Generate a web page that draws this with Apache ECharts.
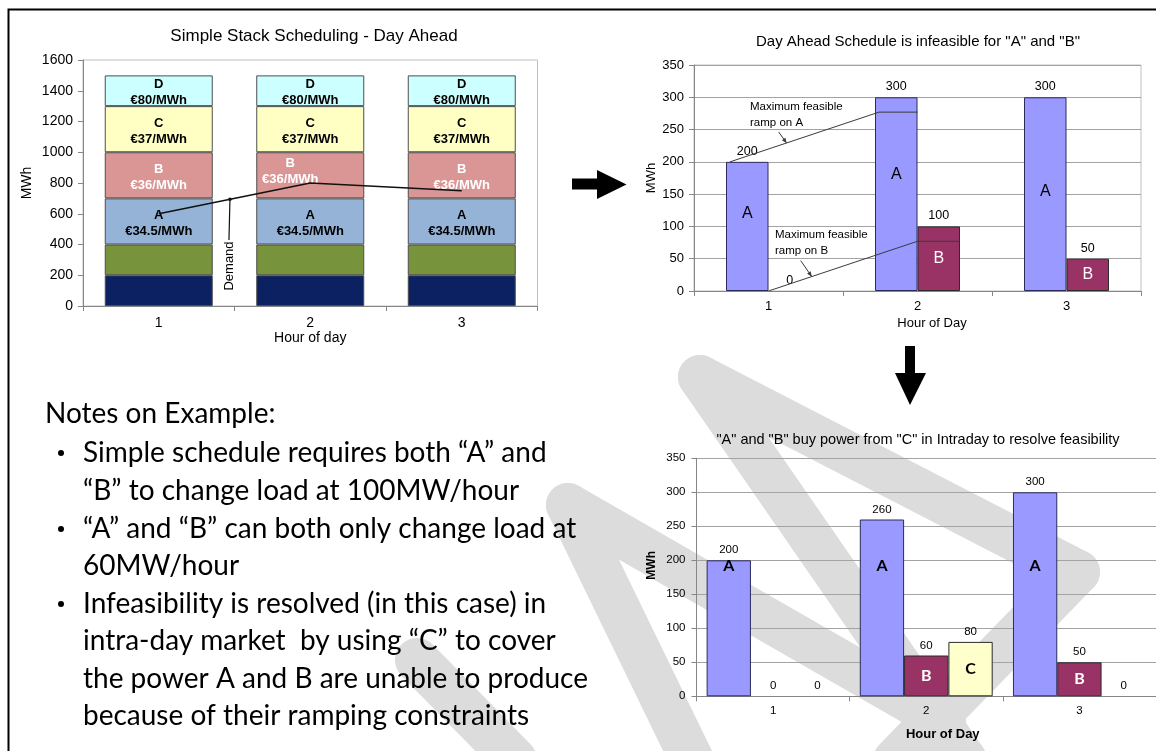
<!DOCTYPE html>
<html><head><meta charset="utf-8">
<script src="https://cdn.jsdelivr.net/npm/echarts@6/dist/echarts.min.js"></script>
<style>html,body{margin:0;padding:0;background:#fff;}#c{width:1156px;height:751px;}</style>
</head><body><div id="c"></div>
<script>
// ---------------- DATA ----------------
const hours = ['1', '2', '3'];

// Chart 1: simple stack (MWh per unit, stacked)
const stackBase1 = [200, 200, 200];
const stackBase2 = [200, 200, 200];
const stackA = [300, 300, 300];
const stackB = [300, 300, 300];
const stackC = [300, 300, 300];
const stackD = [200, 200, 200];
const demand = [600, 800, 750];
const priceA = '€34.5/MWh';
const priceB = '€36/MWh';
const priceC = '€37/MWh';
const priceD = '€80/MWh';

// Chart 2: day-ahead schedule
const dayAheadA = [200, 300, 300];
const dayAheadB = [0, 100, 50];
const rampA = [200, 277];   // max feasible ramp line on A (hour 1 -> hour 2)
const rampB = [0, 77];      // max feasible ramp line on B (hour 1 -> hour 2)

// Chart 3: intraday re-dispatch
const intradayA = [200, 260, 300];
const intradayB = [0, 60, 50];
const intradayC = [0, 80, 0];

const notesTitle = 'Notes on Example:';
const notesLines = [
  {bullet: true,  text: 'Simple schedule requires both \u201CA\u201D and'},
  {bullet: false, text: '\u201CB\u201D to change load at 100MW/hour'},
  {bullet: true,  text: '\u201CA\u201D and \u201CB\u201D can both only change load at'},
  {bullet: false, text: '60MW/hour'},
  {bullet: true,  text: 'Infeasibility is resolved (in this case) in'},
  {bullet: false, text: 'intra-day market  by using \u201CC\u201D to cover'},
  {bullet: false, text: 'the power A and B are unable to produce'},
  {bullet: false, text: 'because of their ramping constraints'}
];

// ---------------- STYLE / LAYOUT ----------------
const FONT = '"Liberation Sans", Arial, sans-serif';
const NOTE_FONT = 'Lato, "Open Sans", sans-serif';
const AX = '#868686';
const GRID = [
  {left: 83, top: 60, width: 454.5, height: 246},
  {left: 694, top: 65, width: 447, height: 226},
  {left: 696.5, top: 458.3, width: 459.5, height: 238}
];
const BW1 = 108, BW2 = 42.5, BW3 = 44.3;
const A2_TAG_SHIFT = [-13, -20, -3];
const A3_TAG_LEVEL = 192;
const px3 = GRID[2].height / 350;

const chart = echarts.init(document.getElementById('c'), null, {renderer: 'canvas'});

function catAxis(gi, o) {
  return Object.assign({
    type: 'category', gridIndex: gi, data: hours,
    axisLine: {show: true, lineStyle: {color: AX, width: 1}},
    axisTick: {show: true, length: 5, lineStyle: {color: AX}},
    axisLabel: {color: '#000', fontFamily: FONT},
    splitLine: {show: false}
  }, o);
}
function hiddenCat(gi) {
  return {type: 'category', gridIndex: gi, data: hours, show: false};
}
function valAxis(gi, o) {
  return Object.assign({
    type: 'value', gridIndex: gi, min: 0,
    axisLine: {show: true, lineStyle: {color: AX, width: 1}},
    axisTick: {show: true, length: 5, lineStyle: {color: AX}}
  }, o);
}
const plain = v => String(v);

const stack1Label = (txt, color, extra) => Object.assign({
  show: true, position: 'inside', formatter: txt, color: color,
  fontFamily: FONT, fontWeight: 'bold', fontSize: 13, lineHeight: 16, offset: [0, 2]
}, extra || {});

function stackSeries(name, data, color, label) {
  return {
    type: 'bar', name: name, xAxisIndex: 0, yAxisIndex: 0, stack: 'gen', barWidth: BW1,
    data: data, itemStyle: {color: color, borderColor: '#4d4d4d', borderWidth: 1},
    label: label || {show: false}, silent: true
  };
}
// zero-height bars get no outline (nothing is drawn for them in the reference)
const withOutline = arr => arr.map(v => v === 0 ? {value: v, itemStyle: {borderWidth: 0}} : v);

const valLabel = (size) => ({show: true, position: 'top', distance: 4, color: '#000', fontFamily: FONT, fontSize: size});
const clear = {color: 'rgba(0,0,0,0)', borderWidth: 0};

const option = {
  animation: false,
  backgroundColor: '#fff',
  title: [
    {text: 'Simple Stack Scheduling - Day Ahead', left: 314, top: 28, textAlign: 'center', padding: 0,
     textStyle: {fontFamily: FONT, fontSize: 17, fontWeight: 'normal', color: '#000'}},
    {text: 'Day Ahead Schedule is infeasible for "A" and "B"', left: 918, top: 34, textAlign: 'center', padding: 0,
     textStyle: {fontFamily: FONT, fontSize: 15, fontWeight: 'normal', color: '#000'}},
    {text: '"A" and "B" buy power from "C" in Intraday to resolve feasibility', left: 918, top: 432, textAlign: 'center', padding: 0,
     textStyle: {fontFamily: FONT, fontSize: 14.5, fontWeight: 'normal', color: '#000'}}
  ],
  grid: [
    Object.assign({show: true, borderColor: '#c0c0c0', borderWidth: 1, backgroundColor: 'transparent', containLabel: false}, GRID[0]),
    Object.assign({show: true, borderColor: '#c0c0c0', borderWidth: 1, backgroundColor: 'transparent', containLabel: false}, GRID[1]),
    Object.assign({show: false, containLabel: false}, GRID[2])
  ],
  xAxis: [
    catAxis(0, {axisLabel: {color: '#000', fontFamily: FONT, fontSize: 14, margin: 10},
      name: 'Hour of day', nameLocation: 'middle', nameGap: 25,
      nameTextStyle: {fontFamily: FONT, fontSize: 14, color: '#000'}}),
    catAxis(1, {axisLabel: {color: '#000', fontFamily: FONT, fontSize: 13, margin: 9},
      name: 'Hour of Day', nameLocation: 'middle', nameGap: 26,
      nameTextStyle: {fontFamily: FONT, fontSize: 13, color: '#000', padding: [0, 0, 0, 29]}}),
    hiddenCat(1),
    catAxis(2, {axisLabel: {color: '#000', fontFamily: FONT, fontSize: 11.5, margin: 9},
      name: 'Hour of Day', nameLocation: 'middle', nameGap: 32,
      nameTextStyle: {fontFamily: FONT, fontSize: 13, fontWeight: 'bold', color: '#000', padding: [0, 0, 0, 33]}}),
    hiddenCat(2)
  ],
  yAxis: [
    valAxis(0, {max: 1600, interval: 200, splitLine: {show: false},
      axisLabel: {color: '#000', fontFamily: FONT, fontSize: 14, margin: 10, formatter: plain},
      name: 'MWh', nameLocation: 'middle', nameGap: 49,
      nameTextStyle: {fontFamily: FONT, fontSize: 14, color: '#000'}}),
    valAxis(1, {max: 350, interval: 50, splitLine: {show: true, lineStyle: {color: '#a3a3a3', width: 1}},
      axisLabel: {color: '#000', fontFamily: FONT, fontSize: 13, margin: 10, formatter: plain},
      name: 'MWh', nameLocation: 'middle', nameGap: 35,
      nameTextStyle: {fontFamily: FONT, fontSize: 13, color: '#000'}}),
    valAxis(2, {max: 350, interval: 50, splitLine: {show: true, lineStyle: {color: '#a3a3a3', width: 1}},
      axisLabel: {color: '#000', fontFamily: FONT, fontSize: 11.5, margin: 11, formatter: plain},
      name: 'MWh', nameLocation: 'middle', nameGap: 39,
      nameTextStyle: {fontFamily: FONT, fontSize: 12, fontWeight: 'bold', color: '#000', padding: [0, 0, 0, 24]}})
  ],
  series: [
    // ---- chart 1 ----
    stackSeries('Base 1', stackBase1, '#0b2161'),
    stackSeries('Base 2', stackBase2, '#77933c'),
    stackSeries('A', stackA, '#95b3d7', stack1Label('A\n' + priceA, '#000')),
    stackSeries('B', stackB.map((v, i) => i === 1 ? {value: v, label: {offset: [-20, -4]}} : v), '#d99694',
      stack1Label('B\n' + priceB, '#fff')),
    stackSeries('C', stackC, '#ffffc4', stack1Label('C\n' + priceC, '#000')),
    stackSeries('D', stackD, '#ccffff', stack1Label('D\n' + priceD, '#000')),
    {type: 'line', name: 'Demand', xAxisIndex: 0, yAxisIndex: 0, data: demand, symbol: 'none',
     lineStyle: {color: '#111', width: 1.5}, z: 5, silent: true},

    // ---- chart 2 ----
    {type: 'bar', name: 'A', xAxisIndex: 1, yAxisIndex: 1, data: withOutline(dayAheadA), barWidth: BW2, barGap: 0,
     itemStyle: {color: '#9999ff', borderColor: '#2b2b5c', borderWidth: 1}, label: valLabel(12.5), silent: true},
    {type: 'bar', name: 'B', xAxisIndex: 1, yAxisIndex: 1, data: withOutline(dayAheadB), barWidth: BW2, barGap: 0,
     itemStyle: {color: '#993366', borderColor: '#2b2b2b', borderWidth: 1}, label: valLabel(12.5), silent: true},
    {type: 'bar', name: 'A tag', xAxisIndex: 2, yAxisIndex: 1, barWidth: BW2, barGap: 0, itemStyle: clear, silent: true,
     data: dayAheadA.map((v, i) => ({value: v, label: {offset: [0, A2_TAG_SHIFT[i]]}})),
     label: {show: true, position: 'inside', formatter: p => p.value ? 'A' : '', color: '#000', fontFamily: FONT, fontSize: 16}},
    {type: 'bar', name: 'B tag', xAxisIndex: 2, yAxisIndex: 1, barWidth: BW2, barGap: 0, itemStyle: clear, silent: true,
     data: dayAheadB,
     label: {show: true, position: 'inside', formatter: p => p.value ? 'B' : '', color: '#fff', fontFamily: FONT, fontSize: 16}},

    // ---- chart 3 ----
    {type: 'bar', name: 'A', xAxisIndex: 3, yAxisIndex: 2, data: withOutline(intradayA), barWidth: BW3, barGap: 0,
     itemStyle: {color: '#9999ff', borderColor: '#2b2b5c', borderWidth: 1}, label: valLabel(11.5), silent: true},
    {type: 'bar', name: 'B', xAxisIndex: 3, yAxisIndex: 2, data: withOutline(intradayB), barWidth: BW3, barGap: 0,
     itemStyle: {color: '#993366', borderColor: '#2b2b2b', borderWidth: 1}, label: valLabel(11.5), silent: true},
    {type: 'bar', name: 'C', xAxisIndex: 3, yAxisIndex: 2, data: withOutline(intradayC), barWidth: BW3, barGap: 0,
     itemStyle: {color: '#ffffcc', borderColor: '#2b2b2b', borderWidth: 1}, label: valLabel(11.5), silent: true},
    {type: 'bar', name: 'A tag', xAxisIndex: 4, yAxisIndex: 2, barWidth: BW3, barGap: 0, itemStyle: clear, silent: true,
     data: intradayA.map(v => ({value: v, label: {position: ['50%', (v - A3_TAG_LEVEL) * px3]}})),
     label: {show: true, formatter: p => p.value ? 'A' : '', align: 'center', verticalAlign: 'middle',
             color: '#000', fontFamily: NOTE_FONT, fontWeight: 'bold', fontSize: 16}},
    {type: 'bar', name: 'B tag', xAxisIndex: 4, yAxisIndex: 2, barWidth: BW3, barGap: 0, itemStyle: clear, silent: true,
     data: intradayB,
     label: {show: true, position: 'inside', formatter: p => p.value ? 'B' : '', color: '#fff', fontFamily: NOTE_FONT, fontWeight: 'bold', fontSize: 16}},
    {type: 'bar', name: 'C tag', xAxisIndex: 4, yAxisIndex: 2, barWidth: BW3, barGap: 0, itemStyle: clear, silent: true,
     data: intradayC,
     label: {show: true, position: 'inside', formatter: p => p.value ? 'C' : '', color: '#000', fontFamily: NOTE_FONT, fontWeight: 'bold', fontSize: 16}}
  ]
};
chart.setOption(option);

// ---------------- ANNOTATIONS ----------------
const px = (xi, yi, pt) => chart.convertToPixel({xAxisIndex: xi, yAxisIndex: yi}, pt);
const g = [];

// watermark (behind everything)
const WM = '#dcdcdc';
[
  [[700, 377], [965, 760]],
  [[700, 377], [1078, 572]],
  [[1078, 572], [895, 760]],
  [[568, 505], [944, 721]],
  [[568, 505], [692, 760]],
  [[417, 660], [515, 760]]
].forEach(pts => g.push({type: 'polyline', z: -100, silent: true,
  shape: {points: pts}, style: {stroke: WM, fill: null, lineWidth: 44, lineCap: 'round', lineJoin: 'round'}}));

// slide frame
g.push({type: 'polyline', z: 50, shape: {points: [[8.5, 751], [8.5, 9.5], [1156, 9.5]]},
  style: {stroke: '#000', lineWidth: 2, fill: null}});

// arrows
g.push({type: 'polygon', z: 50, shape: {points: [[572, 178.5], [597, 178.5], [597, 170], [626.5, 184.5], [597, 199], [597, 189.5], [572, 189.5]]},
  style: {fill: '#000'}});
g.push({type: 'polygon', z: 50, shape: {points: [[905, 346], [915, 346], [915, 373], [926, 373], [910, 405], [895, 373], [905, 373]]},
  style: {fill: '#000'}});

// Demand callout (chart 1)
const t = 0.47;
const d1 = px(0, 0, [0, demand[0]]), d2 = px(0, 0, [1, demand[1]]);
const dp = [d1[0] + t * (d2[0] - d1[0]), d1[1] + t * (d2[1] - d1[1])];
g.push({type: 'circle', z: 20, shape: {cx: dp[0], cy: dp[1], r: 1.8}, style: {fill: '#111'}});
g.push({type: 'line', z: 20, shape: {x1: dp[0], y1: dp[1], x2: dp[0] - 1, y2: 240}, style: {stroke: '#111', lineWidth: 1.2}});
g.push({type: 'text', z: 20, x: dp[0] - 1, y: 266, rotation: Math.PI / 2,
  style: {text: 'Demand', fill: '#000', font: '13px ' + FONT, textAlign: 'center', textVerticalAlign: 'middle'}});

// Ramp lines (chart 2)
function rampLine(xOffset1, xOffset2, vals) {
  const p1 = px(1, 1, [0, vals[0]]), p2 = px(1, 1, [1, vals[1]]);
  const a = [p1[0] + xOffset1, p1[1]], b = [p2[0] + xOffset1, p2[1]], c = [p2[0] + xOffset2, p2[1]];
  g.push({type: 'polyline', z: 20, shape: {points: [a, b, c]}, style: {stroke: '#3a3a3a', lineWidth: 1, fill: null}});
  return [a, b];
}
const rA = rampLine(-BW2 + 4, 0, rampA);
const rB = rampLine(0, BW2, rampB);
function leader(seg, tt, dx, dy) {
  const e = [seg[0][0] + tt * (seg[1][0] - seg[0][0]), seg[0][1] + tt * (seg[1][1] - seg[0][1])];
  const s = [e[0] + dx, e[1] + dy];
  g.push({type: 'line', z: 20, shape: {x1: s[0], y1: s[1], x2: e[0], y2: e[1]}, style: {stroke: '#3a3a3a', lineWidth: 1}});
  const ang = Math.atan2(e[1] - s[1], e[0] - s[0]);
  const L = 5, W = 2.2;
  const bx = e[0] - L * Math.cos(ang), by = e[1] - L * Math.sin(ang);
  g.push({type: 'polygon', z: 20, shape: {points: [e,
    [bx + W * Math.sin(ang), by - W * Math.cos(ang)], [bx - W * Math.sin(ang), by + W * Math.cos(ang)]]}, style: {fill: '#3a3a3a'}});
}
leader(rA, 0.38, -8, -11);
leader(rB, 0.29, -11, -16);
const annFont = '11.5px ' + FONT;
g.push({type: 'text', z: 20, x: 750, y: 107, style: {text: 'Maximum feasible', font: annFont, fill: '#000', textVerticalAlign: 'middle'}});
g.push({type: 'text', z: 20, x: 750, y: 122.5, style: {text: 'ramp on A', font: annFont, fill: '#000', textVerticalAlign: 'middle'}});
g.push({type: 'text', z: 20, x: 775, y: 235, style: {text: 'Maximum feasible', font: annFont, fill: '#000', textVerticalAlign: 'middle'}});
g.push({type: 'text', z: 20, x: 775, y: 250.5, style: {text: 'ramp on B', font: annFont, fill: '#000', textVerticalAlign: 'middle'}});

// Notes text
const cv = document.createElement('canvas').getContext('2d');
cv.font = '100px ' + NOTE_FONT;
const mw = cv.measureText('the power A and B are unable to produce').width;
const nfs = Math.max(18, Math.min(28, 100 * 505 / mw));
const nf = nfs.toFixed(2) + 'px ' + NOTE_FONT;
g.push({type: 'text', z: 30, x: 45, y: 414, style: {text: notesTitle, font: nf, fill: '#000', textVerticalAlign: 'middle'}});
const lineYs = [453, 491, 529, 566, 604, 641, 679, 716];
notesLines.forEach((ln, i) => {
  if (ln.bullet) g.push({type: 'circle', z: 30, shape: {cx: 61, cy: lineYs[i], r: 3}, style: {fill: '#000'}});
  g.push({type: 'text', z: 30, x: 83, y: lineYs[i], style: {text: ln.text, font: nf, fill: '#000', textVerticalAlign: 'middle'}});
});

chart.setOption({graphic: g});
</script>
</body></html>
